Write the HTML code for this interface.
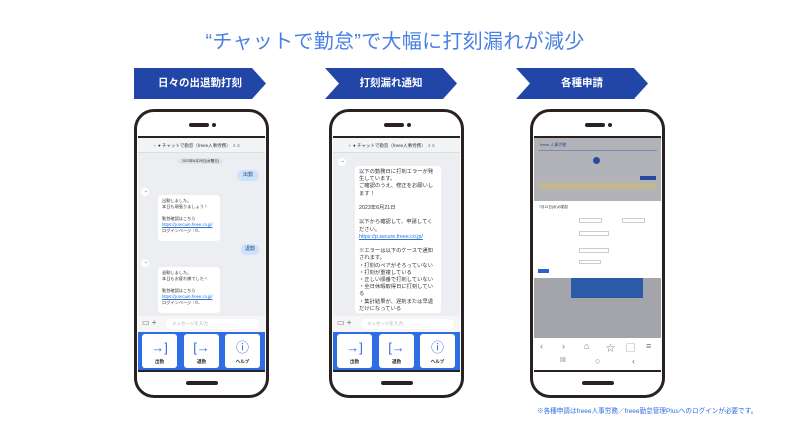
<!DOCTYPE html>
<html><head><meta charset="utf-8"><style>
*{margin:0;padding:0;box-sizing:border-box}
body{width:800px;height:424px;background:#fff;position:relative;overflow:hidden;font-family:"Liberation Sans","Noto Sans CJK JP",sans-serif}
.a{position:absolute}
.title{left:0;width:790px;top:25px;text-align:center;font-size:20px;color:#4a80e6;letter-spacing:0.3px}
.ban{position:absolute;top:68px;height:31px;color:#fff;font-size:10.5px;font-weight:bold;line-height:31px;text-align:center}
.ban svg{position:absolute;left:0;top:0}
.ban span{position:relative}
.phone{position:absolute;width:135px;height:289px;border:3px solid #2a2222;border-radius:20px;background:#fff;overflow:hidden}
.spk{position:absolute;left:50%;margin-left:-13px;top:11px;width:20px;height:4px;border-radius:2px;background:#2a2222}
.spk:after{content:"";position:absolute;left:23px;top:0;width:4px;height:4px;border-radius:2px;background:#2a2222}
.bot{position:absolute;left:50%;margin-left:-16px;bottom:10px;width:32px;height:4px;border-radius:2px;background:#2a2222}
.scr{position:absolute;left:1px;right:1px;top:24px;height:236px;border-top:2px solid #2a2222;border-bottom:2px solid #2a2222;background:#eceef1;overflow:hidden}
.hdr{position:absolute;left:0;right:0;top:0;height:15px;background:#f3f4f6;border-bottom:1px solid #ddd;font-size:4.5px;line-height:15px;color:#333;padding-left:16px}
.tx{font-size:4.2px;line-height:6px;color:#333}
.bub{position:absolute;background:#fff;border-radius:4px;padding:3px 4px}
.me{position:absolute;background:#cde2fb;border-radius:5px;font-size:5px;text-align:center;color:#2a4a80}
.av{position:absolute;width:8px;height:8px;border-radius:4px;background:#fff;color:#3f74dc;font-size:5px;line-height:8px;text-align:center}
.inp{position:absolute;left:0;right:0;top:178px;height:16px;background:#f6f6f6}
.inp .box{position:absolute;left:28px;right:6px;top:3px;height:10px;border-radius:5px;background:#fff;font-size:4.5px;line-height:10px;color:#aaa;padding-left:6px}
.bar{position:absolute;left:0;right:0;top:194px;height:40px;background:#2f6de4}
.btn{position:absolute;top:2px;width:35px;height:34px;background:#fff;border-radius:3px;text-align:center;color:#2f6de4}
.btn b{display:block;font-size:13px;font-weight:normal;line-height:22px;padding-top:3px}
.btn i{display:block;font-style:normal;font-size:4.5px;color:#222;font-weight:bold}
.lk{color:#2a73d8;text-decoration:underline}
</style></head><body>
<div class="a title">“チャットで勤怠”で大幅に打刻漏れが減少</div>

<div class="ban" style="left:134px;width:132px"><svg width="132" height="31"><polygon points="0,0 118,0 132,15.5 118,31 0,31" fill="#2146a8"/></svg><span>日々の出退勤打刻</span></div>
<div class="ban" style="left:325px;width:132px"><svg width="132" height="31"><polygon points="0,0 118,0 132,15.5 118,31 0,31 14,15.5" fill="#2146a8"/></svg><span>打刻漏れ通知</span></div>
<div class="ban" style="left:516px;width:132px"><svg width="132" height="31"><polygon points="0,0 118,0 132,15.5 118,31 0,31 14,15.5" fill="#2146a8"/></svg><span>各種申請</span></div>

<!-- phone 1 -->
<div class="phone" style="left:134px;top:109px">
<div class="spk"></div><div class="bot"></div>
<div class="scr">
<div class="hdr">‹&nbsp; ● チャットで勤怠（freee人事労務）&nbsp; ⌕ ≡</div>
<div class="a tx" style="left:40px;top:20px;background:#e0e2e6;border-radius:3px;padding:0 4px;font-size:3.5px">2023年6月28日(水曜日)</div>
<div class="me" style="left:99px;top:32px;width:22px;height:11px;line-height:11px">出勤</div>
<div class="av" style="left:3px;top:50px">➝</div>
<div class="bub tx" style="left:20px;top:57px;width:62px;height:46px">出勤しました。<br>本日も頑張りましょう！<br><br>勤怠確認はこちら<br><span class="lk">https://p.secure.freee.co.jp/</span><br>ログインページ｜fr..</div>
<div class="me" style="left:103px;top:106px;width:18px;height:11px;line-height:11px">退勤</div>
<div class="av" style="left:3px;top:121px">➝</div>
<div class="bub tx" style="left:20px;top:129px;width:62px;height:46px">退勤しました。<br>本日もお疲れ様でした！<br><br>勤怠確認はこちら<br><span class="lk">https://p.secure.freee.co.jp/</span><br>ログインページ｜fr..</div>
<div class="inp"><span class="a" style="left:4px;top:2px;font-size:8px;color:#666">▭ +</span><div class="box">メッセージを入力</div></div>
<div class="bar"><div class="btn" style="left:4px"><b>→]</b><i>出勤</i></div><div class="btn" style="left:46px"><b>[→</b><i>退勤</i></div><div class="btn" style="left:87px"><b>ⓘ</b><i>ヘルプ</i></div></div>
</div></div>

<!-- phone 2 -->
<div class="phone" style="left:329px;top:109px">
<div class="spk"></div><div class="bot"></div>
<div class="scr">
<div class="hdr">‹&nbsp; ● チャットで勤怠（freee人事労務）&nbsp; ⌕ ≡</div>
<div class="av" style="left:5px;top:20px">➝</div>
<div class="bub" style="left:22px;top:28px;width:86px;height:147px;font-size:5.3px;line-height:7.2px;color:#333">以下の勤務日に打刻エラーが発生しています。<br>ご確認のうえ、修正をお願いします！<br><br>2023年6月21日<br><br>以下から確認して、申請してください。<br><span class="lk">https://p.secure.freee.co.jp/</span><br><br>※エラーは以下のケースで通知されます。<br>・打刻のペアがそろっていない<br>・打刻が重複している<br>・正しい順番で打刻していない<br>・全日休暇取得日に打刻している<br>・集計結果が、遅刻または早退だけになっている</div>
<div class="inp"><span class="a" style="left:4px;top:2px;font-size:8px;color:#666">▭ +</span><div class="box">メッセージを入力</div></div>
<div class="bar"><div class="btn" style="left:4px"><b>→]</b><i>出勤</i></div><div class="btn" style="left:46px"><b>[→</b><i>退勤</i></div><div class="btn" style="left:87px"><b>ⓘ</b><i>ヘルプ</i></div></div>
</div></div>

<!-- phone 3 -->
<div class="phone" style="left:530px;top:109px">
<div class="spk"></div><div class="bot"></div>
<div class="scr" style="background:#a3a5aa">
<div class="a" style="left:0;right:0;top:0;height:64px;background:#b1b3b8"></div>
<div class="a" style="left:6px;top:4px;font-size:4px;color:#2a4a90">freee 人事労務</div>
<div class="a" style="left:4px;top:12px;right:4px;height:1px;background:#7d8ab0"></div>
<div class="a" style="left:59px;top:19px;width:7px;height:7px;border-radius:4px;background:#2a4aa0"></div>
<div class="a" style="left:106px;top:38px;width:16px;height:4px;background:#2a4aa0"></div>
<div class="a" style="left:4px;top:45px;right:4px;height:6px;background:#c2b78e"></div>
<div class="a" style="left:0;right:0;top:63px;height:77px;background:#fff"></div>
<div class="a tx" style="left:5px;top:66px;font-size:3.5px">7月12日(水)の勤怠</div>
<div class="a" style="left:45px;top:80px;width:23px;height:5px;border:1px solid #ccc"></div>
<div class="a" style="left:88px;top:80px;width:23px;height:5px;border:1px solid #ccc"></div>
<div class="a" style="left:45px;top:93px;width:30px;height:5px;border:1px solid #ccc"></div>
<div class="a" style="left:45px;top:110px;width:30px;height:5px;border:1px solid #ccc"></div>
<div class="a" style="left:45px;top:122px;width:22px;height:4px;border:1px solid #ccc"></div>
<div class="a" style="left:4px;top:131px;width:11px;height:4px;background:#2a63d0"></div>
<div class="a" style="left:37px;top:140px;width:72px;height:20px;background:#2a5aa8"></div>
<div class="a" style="left:0;right:0;top:200px;height:36px;background:#fff;font-size:9px;color:#777">
<span class="a" style="left:6px;top:3px">‹</span><span class="a" style="left:28px;top:3px">›</span><span class="a" style="left:50px;top:3px">⌂</span><span class="a" style="left:72px;top:3px">☆</span><span class="a" style="left:92px;top:3px">▢</span><span class="a" style="left:112px;top:3px">≡</span>
<span class="a" style="left:26px;top:19px;font-size:7px">III</span><span class="a" style="left:61px;top:18px">○</span><span class="a" style="left:98px;top:18px">‹</span></div>
</div></div>

<div class="a" style="left:537px;top:405px;font-size:6.6px;color:#2f6de4">※各種申請はfreee人事労務／freee勤怠管理Plusへのログインが必要です。</div>
</body></html>
